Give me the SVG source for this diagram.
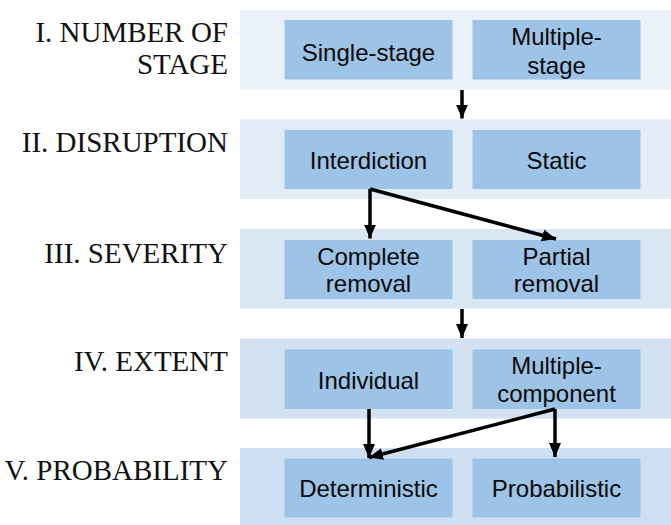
<svg xmlns="http://www.w3.org/2000/svg" width="671" height="525" viewBox="0 0 671 525">
<defs>
<marker id="ah" markerUnits="userSpaceOnUse" markerWidth="15" markerHeight="15" viewBox="0 0 15 15" refX="14" refY="7.5" orient="auto">
<path d="M0,1.5 L14,7.5 L0,13.5 Z" fill="#000"/>
</marker>
</defs>
<style>
.lbl{font-family:"Liberation Serif","Times New Roman",serif;font-size:29px;fill:#111;text-anchor:end}
.box{fill:#9DC3E6}
.bt{font-family:"Liberation Sans",Arial,sans-serif;font-size:24px;fill:#0a0a0a;text-anchor:middle}
.con{stroke:#000;stroke-width:3.5;fill:none;marker-end:url(#ah)}
</style>
<rect width="671" height="525" fill="#fff"/>
<g id="bands">
<rect x="240" y="10" width="431" height="79.5" fill="#EAF1F9"/>
<rect x="240" y="119.5" width="431" height="79.5" fill="#E1ECF7"/>
<rect x="240" y="229" width="431" height="79.5" fill="#D9E7F5"/>
<rect x="240" y="338.5" width="431" height="80" fill="#D2E2F3"/>
<rect x="240" y="448" width="431" height="80" fill="#CEDFF2"/>
</g>
<g id="labels">
<text class="lbl" x="228" y="42">I. NUMBER OF</text>
<text class="lbl" x="228" y="74">STAGE</text>
<text class="lbl" x="228" y="152">II. DISRUPTION</text>
<text class="lbl" x="228" y="263">III. SEVERITY</text>
<text class="lbl" x="228" y="371">IV. EXTENT</text>
<text class="lbl" x="228" y="480">V. PROBABILITY</text>
</g>
<g id="single-stage"><rect class="box" x="284.5" y="20" width="168" height="59.5"/><text class="bt" x="368.5" y="60.5">Single-stage</text></g>
<g id="multiple-stage"><rect class="box" x="472.5" y="20" width="168" height="59.5"/><text class="bt" x="556.5" y="45">Multiple-</text><text class="bt" x="556.5" y="73.5">stage</text></g>
<g id="interdiction"><rect class="box" x="284.5" y="130" width="168" height="59"/><text class="bt" x="368.5" y="169">Interdiction</text></g>
<g id="static"><rect class="box" x="472.5" y="130" width="168" height="59"/><text class="bt" x="556.5" y="169">Static</text></g>
<g id="complete-removal"><rect class="box" x="284.5" y="240" width="168" height="59"/><text class="bt" x="368.5" y="265">Complete</text><text class="bt" x="368.5" y="292">removal</text></g>
<g id="partial-removal"><rect class="box" x="472.5" y="240" width="168" height="59"/><text class="bt" x="556.5" y="265">Partial</text><text class="bt" x="556.5" y="292">removal</text></g>
<g id="individual"><rect class="box" x="284.5" y="349.5" width="168" height="59.5"/><text class="bt" x="368.5" y="388.5">Individual</text></g>
<g id="multiple-component"><rect class="box" x="472.5" y="349.5" width="168" height="59.5"/><text class="bt" x="556.5" y="374">Multiple-</text><text class="bt" x="556.5" y="401.5">component</text></g>
<g id="deterministic"><rect class="box" x="284.5" y="458.5" width="168" height="59"/><text class="bt" x="368.5" y="497">Deterministic</text></g>
<g id="probabilistic"><rect class="box" x="472.5" y="458.5" width="168" height="59"/><text class="bt" x="556.5" y="497">Probabilistic</text></g>
<g id="connectors">
<path class="con" d="M462,90 L462,118.5"/>
<path class="con" d="M462,309 L462,338"/>
<path class="con" d="M370,189 L370,238.5"/>
<path class="con" d="M370,189 L556,239"/>
<path class="con" d="M369,409 L369,458"/>
<path class="con" d="M555,409 L555,457"/>
<path class="con" d="M555,409 L369,457.5"/>
</g>
</svg>
